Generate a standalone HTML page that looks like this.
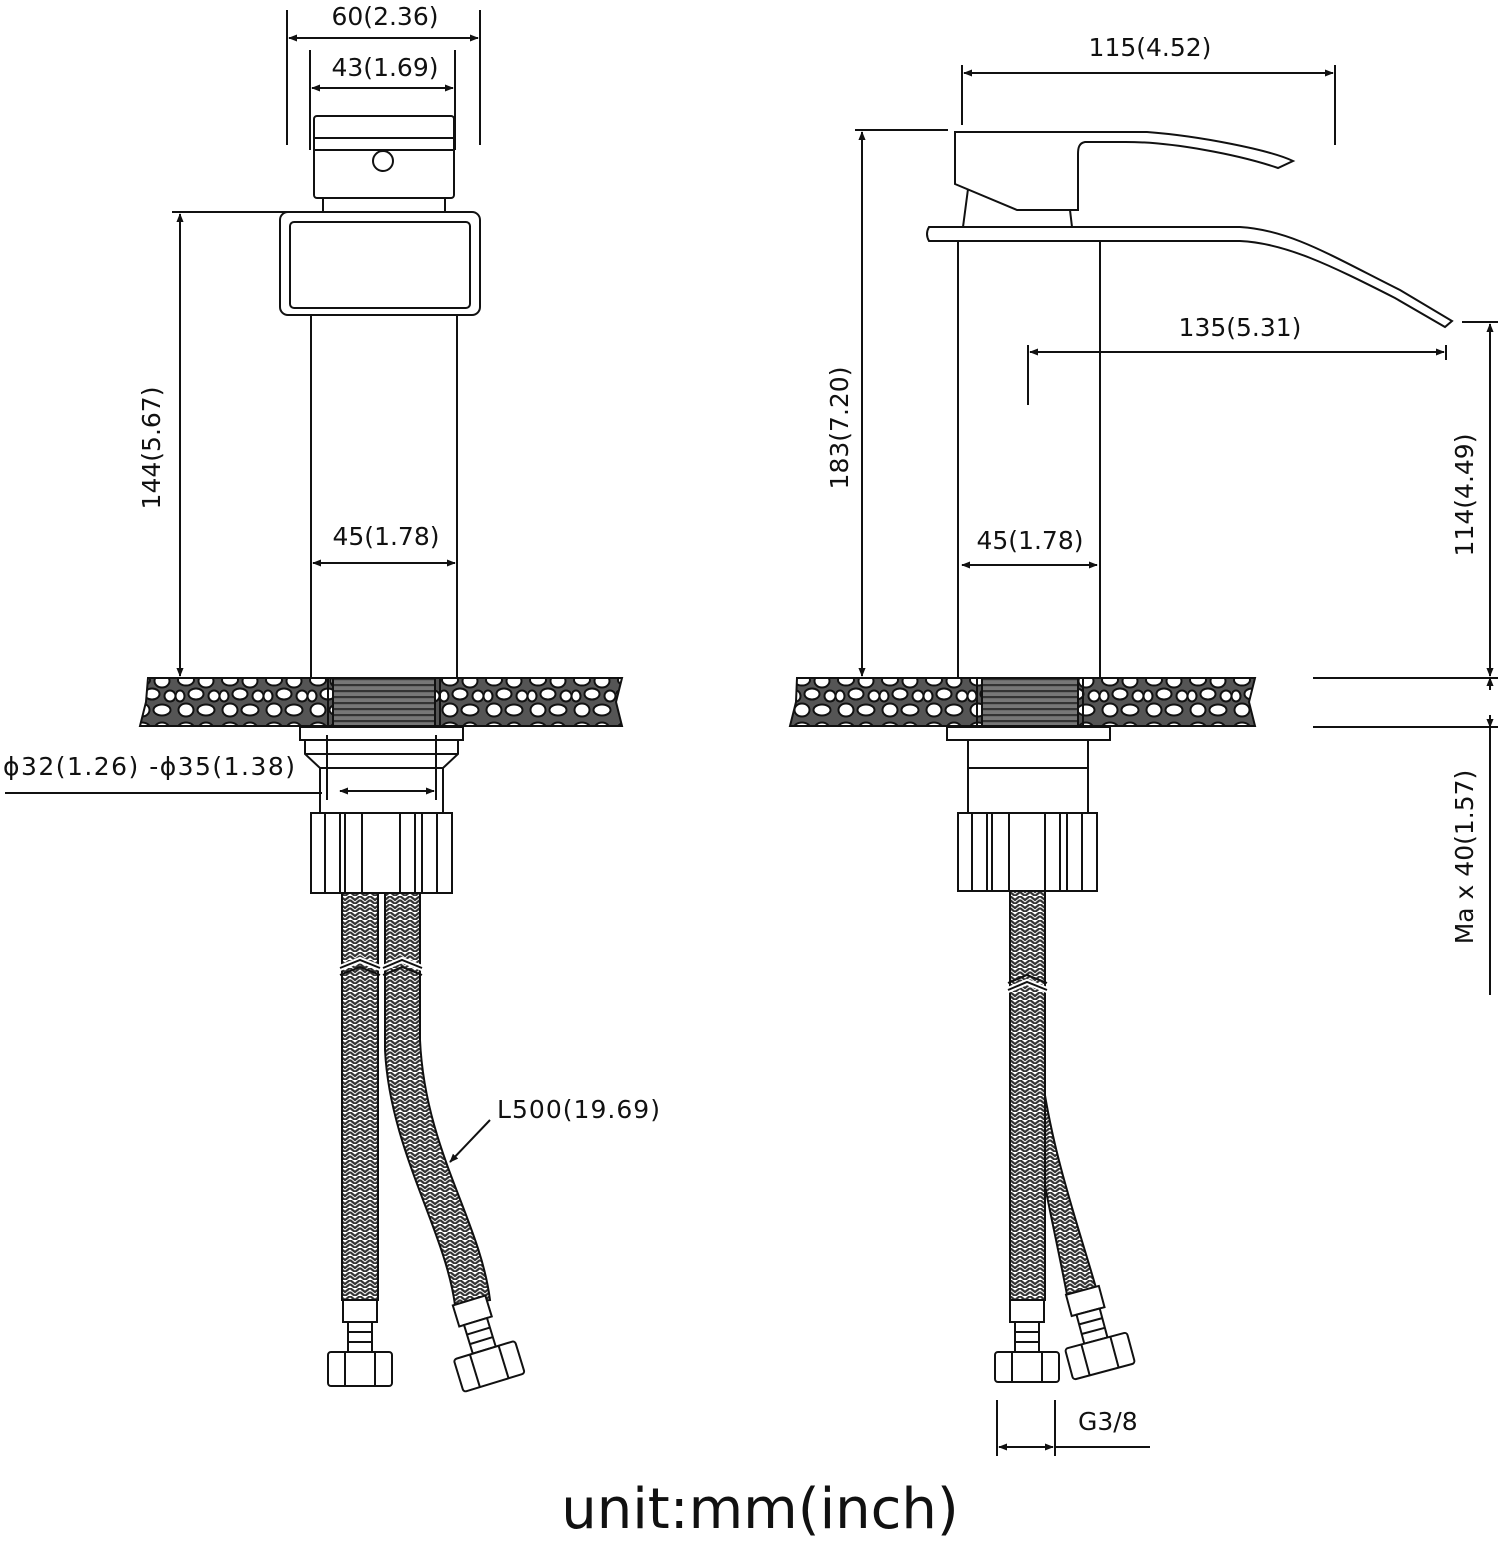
<!DOCTYPE html>
<html><head><meta charset="utf-8"><style>
html,body{margin:0;padding:0;background:#fff;}
svg{display:block;}
text{font-family:"DejaVu Sans","Liberation Sans",sans-serif;fill:#111;}
</style></head><body>
<svg width="1500" height="1543" viewBox="0 0 1500 1543" xmlns="http://www.w3.org/2000/svg">
<defs>
<marker id="a" viewBox="0 0 10 10" refX="9" refY="5" markerWidth="9" markerHeight="9" orient="auto-start-reverse" markerUnits="userSpaceOnUse"><path d="M0,1 L10,5 L0,9 Z" fill="#111"/></marker>
<pattern id="stone" width="44" height="48" patternUnits="userSpaceOnUse">
<rect width="44" height="48" fill="#555"/>
<g fill="#fff" stroke="#111" stroke-width="2">
<ellipse cx="10" cy="8" rx="8" ry="5.5"/><ellipse cx="30" cy="9" rx="7.5" ry="6.5"/>
<ellipse cx="20" cy="22" rx="7.5" ry="5.5"/><ellipse cx="4" cy="24" rx="4.5" ry="5.5"/><ellipse cx="38" cy="24" rx="5.5" ry="5.5"/>
<ellipse cx="10" cy="38" rx="7.5" ry="6.5"/><ellipse cx="30" cy="38" rx="8.5" ry="5.5"/>
</g></pattern>
<pattern id="thread" width="10" height="6" patternUnits="userSpaceOnUse">
<rect width="10" height="6" fill="#777"/><rect y="0" width="10" height="2.2" fill="#333"/></pattern>
<pattern id="braid" width="10" height="8" patternUnits="userSpaceOnUse">
<rect width="10" height="8" fill="#fff"/>
<path d="M0,0 L5,4 L10,0 M0,4 L5,8 L10,4" fill="none" stroke="#333" stroke-width="2.2"/></pattern>
</defs>
<g fill="none" stroke="#111" stroke-width="2">

<line x1="287" y1="10" x2="287" y2="145"/><line x1="480" y1="10" x2="480" y2="145"/>
<line x1="289" y1="38" x2="478" y2="38" marker-start="url(#a)" marker-end="url(#a)"/>
<line x1="310" y1="50" x2="310" y2="150"/><line x1="455" y1="50" x2="455" y2="150"/>
<line x1="312" y1="88" x2="453" y2="88" marker-start="url(#a)" marker-end="url(#a)"/>
<rect x="314" y="116" width="140" height="82" rx="3"/>
<line x1="314" y1="138" x2="454" y2="138"/><line x1="314" y1="150" x2="454" y2="150"/>
<circle cx="383" cy="161" r="10"/>
<rect x="323" y="198" width="122" height="14"/>
<line x1="172" y1="212" x2="385" y2="212"/>
<rect x="280" y="212" width="200" height="103" rx="8"/>
<rect x="290" y="222" width="180" height="86" rx="4"/>
<line x1="180" y1="214" x2="180" y2="676" marker-start="url(#a)" marker-end="url(#a)"/>
<line x1="311" y1="315" x2="311" y2="678"/><line x1="457" y1="315" x2="457" y2="678"/>
<line x1="313" y1="563" x2="455" y2="563" marker-start="url(#a)" marker-end="url(#a)"/>
<path d="M148,678 L622,678 L616,702 L622,726 L140,726 L146,702 Z" fill="url(#stone)"/>
<rect x="333" y="678" width="102" height="48" fill="url(#thread)"/>
<line x1="328" y1="678" x2="328" y2="726"/><line x1="440" y1="678" x2="440" y2="726"/>
<g>
<rect x="300" y="727" width="163" height="13"/>
<path d="M305,740 L458,740 L458,754 L443,768 L320,768 L305,754 Z"/>
<line x1="305" y1="754" x2="458" y2="754"/>
<line x1="320" y1="768" x2="320" y2="813"/><line x1="443" y1="768" x2="443" y2="813"/>
<rect x="311" y="813" width="141" height="80"/>
<rect x="311" y="813" width="14" height="80"/><rect x="340" y="813" width="22" height="80"/>
<line x1="345" y1="813" x2="345" y2="893"/>
<rect x="400" y="813" width="22" height="80"/><line x1="415" y1="813" x2="415" y2="893"/>
<rect x="437" y="813" width="15" height="80"/>
</g>
<line x1="327" y1="735" x2="327" y2="800"/><line x1="436" y1="735" x2="436" y2="800"/>
<line x1="340" y1="791" x2="434" y2="791" marker-start="url(#a)" marker-end="url(#a)"/>
<line x1="5" y1="793" x2="322" y2="793"/>
<path d="M342,893 L378,893 L378,1300 L342,1300 Z" fill="url(#braid)"/>
<path d="M385,893 L420,893 L420,1040 C425,1150 480,1220 490,1300 L455,1305 C445,1230 390,1150 385,1050 Z" fill="url(#braid)"/>
<path d="M340,968 L360,960 L380,968 M383,968 L402,960 L422,968" stroke="#fff" stroke-width="6"/>
<path d="M340,975 L360,967 L380,975 M340,968 L360,960 L380,968 M383,975 L402,967 L422,975 M383,968 L402,960 L422,968"/>
<rect x="343" y="1300" width="34" height="22" fill="#fff"/>
<rect x="348" y="1322" width="24" height="30" fill="#fff"/>
<line x1="348" y1="1332" x2="372" y2="1332"/><line x1="348" y1="1342" x2="372" y2="1342"/>
<rect x="328" y="1352" width="64" height="34" rx="3" fill="#fff"/>
<line x1="345" y1="1352" x2="345" y2="1386"/><line x1="375" y1="1352" x2="375" y2="1386"/>
<g transform="translate(472,1310) rotate(-17)">
<rect x="-17" y="-10" width="34" height="22" fill="#fff"/>
<rect x="-12" y="12" width="24" height="30" fill="#fff"/>
<line x1="-12" y1="22" x2="12" y2="22"/><line x1="-12" y1="32" x2="12" y2="32"/>
<rect x="-32" y="42" width="64" height="34" rx="3" fill="#fff"/>
<line x1="-15" y1="42" x2="-15" y2="76"/><line x1="15" y1="42" x2="15" y2="76"/>
</g>
<line x1="490" y1="1120" x2="450" y2="1162" marker-end="url(#a)"/>

<line x1="962" y1="65" x2="962" y2="125"/><line x1="1335" y1="65" x2="1335" y2="145"/>
<line x1="964" y1="73" x2="1333" y2="73" marker-start="url(#a)" marker-end="url(#a)"/>
<line x1="855" y1="130" x2="948" y2="130"/>
<line x1="862" y1="132" x2="862" y2="676" marker-start="url(#a)" marker-end="url(#a)"/>
<path d="M955,132 L1147,132 C1200,136 1270,150 1293,161 L1278,168 C1240,155 1170,141 1120,142 L1085,142 C1079,143 1078,148 1078,154 L1078,210 L1017,210 L955,184 Z" fill="#fff"/>
<path d="M968,189 L963,227 M1070,210 L1072,227"/>
<path d="M929,227 L1240,227 C1290,230 1330,255 1400,290 L1452,321 L1445,327 L1395,298 C1330,265 1285,243 1240,241 L929,241 Q925,234 929,227 Z" fill="#fff"/>
<line x1="958" y1="241" x2="958" y2="678"/><line x1="1100" y1="241" x2="1100" y2="678"/>
<line x1="1028" y1="345" x2="1028" y2="405"/>
<line x1="1030" y1="352" x2="1444" y2="352" marker-start="url(#a)" marker-end="url(#a)"/>
<line x1="1446" y1="345" x2="1446" y2="360"/>
<line x1="1462" y1="322" x2="1498" y2="322"/>
<line x1="1490" y1="324" x2="1490" y2="676" marker-start="url(#a)" marker-end="url(#a)"/>
<line x1="962" y1="565" x2="1097" y2="565" marker-start="url(#a)" marker-end="url(#a)"/>
<path d="M797,678 L1255,678 L1249,702 L1255,726 L790,726 L796,702 Z" fill="url(#stone)"/>
<rect x="982" y="678" width="96" height="48" fill="url(#thread)"/>
<line x1="977" y1="678" x2="977" y2="726"/><line x1="1083" y1="678" x2="1083" y2="726"/>
<line x1="1313" y1="678" x2="1498" y2="678"/><line x1="1313" y1="727" x2="1498" y2="727"/>
<line x1="1490" y1="690" x2="1490" y2="678" marker-end="url(#a)"/>
<line x1="1490" y1="715" x2="1490" y2="727" marker-end="url(#a)"/>
<line x1="1490" y1="727" x2="1490" y2="995"/>
<g transform="translate(647,0)">
<rect x="300" y="727" width="163" height="13"/>
<path d="M321,740 L441,740 L441,768 L321,768 Z"/>
<line x1="321" y1="768" x2="321" y2="813"/><line x1="441" y1="768" x2="441" y2="813"/>
<rect x="311" y="813" width="139" height="78"/>
<rect x="311" y="813" width="14" height="78"/><rect x="340" y="813" width="22" height="78"/>
<line x1="345" y1="813" x2="345" y2="891"/>
<rect x="398" y="813" width="22" height="78"/><line x1="413" y1="813" x2="413" y2="891"/>
<rect x="435" y="813" width="15" height="78"/>
</g>
<path d="M1040,1060 C1050,1150 1080,1230 1098,1295 L1068,1300 C1055,1230 1035,1150 1028,1080 Z" fill="url(#braid)"/>
<path d="M1010,891 L1045,891 L1045,1300 L1010,1300 Z" fill="url(#braid)"/>
<path d="M1008,990 L1027,982 L1047,990" stroke="#fff" stroke-width="6"/>
<path d="M1008,990 L1027,982 L1047,990 M1008,983 L1027,975 L1047,983"/>
<rect x="1010" y="1300" width="34" height="22" fill="#fff"/>
<rect x="1015" y="1322" width="24" height="30" fill="#fff"/>
<line x1="1015" y1="1332" x2="1039" y2="1332"/><line x1="1015" y1="1342" x2="1039" y2="1342"/>
<rect x="995" y="1352" width="64" height="30" rx="3" fill="#fff"/>
<line x1="1012" y1="1352" x2="1012" y2="1382"/><line x1="1042" y1="1352" x2="1042" y2="1382"/>
<g transform="translate(1085,1300) rotate(-15)">
<rect x="-17" y="-10" width="34" height="22" fill="#fff"/>
<rect x="-12" y="12" width="24" height="30" fill="#fff"/>
<line x1="-12" y1="22" x2="12" y2="22"/><line x1="-12" y1="32" x2="12" y2="32"/>
<rect x="-32" y="42" width="64" height="32" rx="3" fill="#fff"/>
<line x1="-15" y1="42" x2="-15" y2="74"/><line x1="15" y1="42" x2="15" y2="74"/>
</g>
<line x1="997" y1="1400" x2="997" y2="1456"/><line x1="1055" y1="1400" x2="1055" y2="1456"/>
<line x1="999" y1="1447" x2="1053" y2="1447" marker-start="url(#a)" marker-end="url(#a)"/>
<line x1="1055" y1="1447" x2="1150" y2="1447"/>
</g>

<g font-size="25">
<text x="385" y="25" text-anchor="middle">60(2.36)</text>
<text x="385" y="76" text-anchor="middle">43(1.69)</text>
<text x="386" y="545" text-anchor="middle">45(1.78)</text>
<text transform="translate(160,448) rotate(-90)" text-anchor="middle">144(5.67)</text>
<text x="3" y="775" textLength="292" lengthAdjust="spacing">ϕ32(1.26)  -ϕ35(1.38)</text>
<text x="497" y="1118" textLength="163" lengthAdjust="spacing">L500(19.69)</text>
<text x="1150" y="56" text-anchor="middle">115(4.52)</text>
<text x="1240" y="336" text-anchor="middle">135(5.31)</text>
<text x="1030" y="549" text-anchor="middle">45(1.78)</text>
<text transform="translate(848,428) rotate(-90)" text-anchor="middle">183(7.20)</text>
<text transform="translate(1473,495) rotate(-90)" text-anchor="middle">114(4.49)</text>
<text transform="translate(1473,857) rotate(-90)" text-anchor="middle">Ma x 40(1.57)</text>
<text x="1078" y="1430">G3/8</text>
</g>
<text x="760" y="1528" font-size="56" text-anchor="middle">unit:mm(inch)</text>
</svg>
</body></html>
